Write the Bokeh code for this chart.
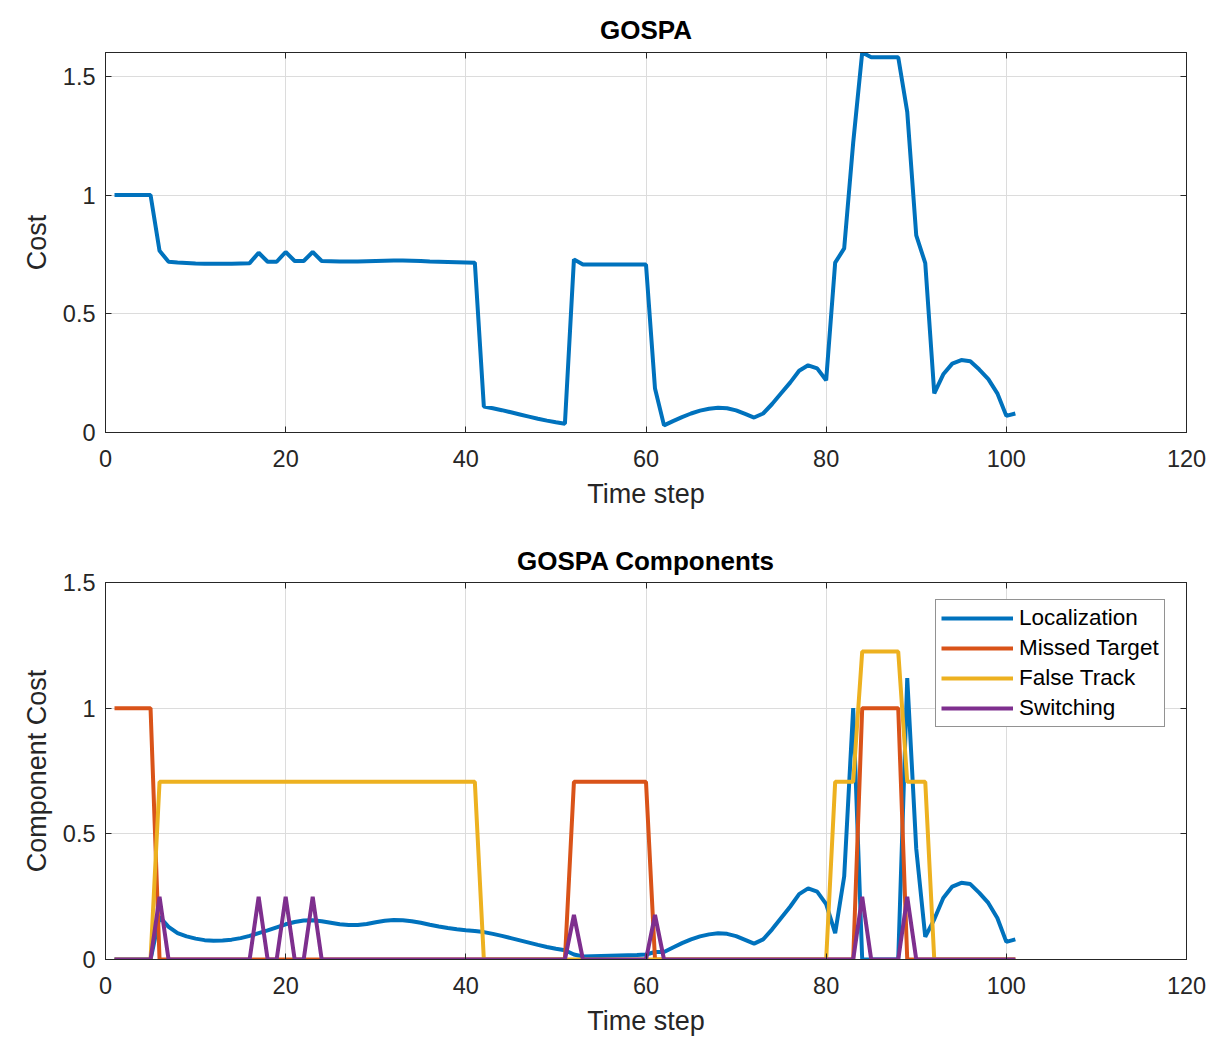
from bokeh.plotting import figure
from bokeh.layouts import column
from bokeh.models import LinearAxis, FixedTicker, Range1d, Legend, LegendItem
from bokeh.embed import file_html
from bokeh.resources import INLINE

# ---------------- data ----------------
time_step = list(range(1, 102))

gospa = [
    1.0, 1.0, 1.0, 1.0, 1.0, 0.765, 0.719, 0.716, 0.714, 0.712,
    0.711, 0.711, 0.711, 0.711, 0.712, 0.713, 0.757, 0.719, 0.719, 0.76,
    0.722, 0.722, 0.76, 0.722, 0.721, 0.72, 0.72, 0.72, 0.721, 0.722,
    0.723, 0.724, 0.724, 0.723, 0.722, 0.72, 0.719, 0.718, 0.717, 0.716,
    0.715, 0.109, 0.102, 0.094, 0.085, 0.076, 0.067, 0.058, 0.05, 0.043,
    0.037, 0.729, 0.707, 0.707, 0.707, 0.707, 0.707, 0.707, 0.707, 0.707,
    0.185, 0.03, 0.048, 0.065, 0.08, 0.092, 0.1, 0.104, 0.102, 0.093,
    0.078, 0.063, 0.08, 0.12, 0.165, 0.21, 0.26, 0.283, 0.27, 0.22,
    0.715, 0.775, 1.22, 1.6, 1.58, 1.58, 1.58, 1.58, 1.35, 0.83,
    0.713, 0.165, 0.245, 0.29, 0.305, 0.3, 0.265, 0.225, 0.165, 0.07,
    0.08,
]

localization = [
    0.0, 0.0, 0.0, 0.0, 0.0, 0.17, 0.13, 0.105, 0.092, 0.083,
    0.077, 0.075, 0.076, 0.079, 0.085, 0.094, 0.105, 0.116, 0.128, 0.14,
    0.149, 0.155, 0.156, 0.152, 0.146, 0.14, 0.137, 0.137, 0.141, 0.148,
    0.154, 0.157, 0.156, 0.152, 0.146, 0.138, 0.131, 0.125, 0.12, 0.116,
    0.113, 0.109, 0.102, 0.094, 0.085, 0.076, 0.067, 0.058, 0.05, 0.043,
    0.037, 0.02, 0.012, 0.013, 0.014, 0.015, 0.016, 0.017, 0.018, 0.02,
    0.03, 0.03, 0.048, 0.065, 0.08, 0.092, 0.1, 0.104, 0.102, 0.093,
    0.078, 0.063, 0.08, 0.12, 0.165, 0.21, 0.26, 0.283, 0.27, 0.22,
    0.105, 0.33, 1.0, 0.0, 0.0, 0.0, 0.0, 0.0, 1.12, 0.44,
    0.09, 0.16, 0.245, 0.29, 0.305, 0.3, 0.265, 0.225, 0.165, 0.07,
    0.08,
]

missed_target = [
    1.0, 1.0, 1.0, 1.0, 1.0, 0.0, 0.0, 0.0, 0.0, 0.0,
    0.0, 0.0, 0.0, 0.0, 0.0, 0.0, 0.0, 0.0, 0.0, 0.0,
    0.0, 0.0, 0.0, 0.0, 0.0, 0.0, 0.0, 0.0, 0.0, 0.0,
    0.0, 0.0, 0.0, 0.0, 0.0, 0.0, 0.0, 0.0, 0.0, 0.0,
    0.0, 0.0, 0.0, 0.0, 0.0, 0.0, 0.0, 0.0, 0.0, 0.0,
    0.0, 0.707, 0.707, 0.707, 0.707, 0.707, 0.707, 0.707, 0.707, 0.707,
    0.0, 0.0, 0.0, 0.0, 0.0, 0.0, 0.0, 0.0, 0.0, 0.0,
    0.0, 0.0, 0.0, 0.0, 0.0, 0.0, 0.0, 0.0, 0.0, 0.0,
    0.0, 0.0, 0.0, 1.0, 1.0, 1.0, 1.0, 1.0, 0.0, 0.0,
    0.0, 0.0, 0.0, 0.0, 0.0, 0.0, 0.0, 0.0, 0.0, 0.0,
    0.0,
]

false_track = [
    0.0, 0.0, 0.0, 0.0, 0.0, 0.707, 0.707, 0.707, 0.707, 0.707,
    0.707, 0.707, 0.707, 0.707, 0.707, 0.707, 0.707, 0.707, 0.707, 0.707,
    0.707, 0.707, 0.707, 0.707, 0.707, 0.707, 0.707, 0.707, 0.707, 0.707,
    0.707, 0.707, 0.707, 0.707, 0.707, 0.707, 0.707, 0.707, 0.707, 0.707,
    0.707, 0.0, 0.0, 0.0, 0.0, 0.0, 0.0, 0.0, 0.0, 0.0,
    0.0, 0.0, 0.0, 0.0, 0.0, 0.0, 0.0, 0.0, 0.0, 0.0,
    0.0, 0.0, 0.0, 0.0, 0.0, 0.0, 0.0, 0.0, 0.0, 0.0,
    0.0, 0.0, 0.0, 0.0, 0.0, 0.0, 0.0, 0.0, 0.0, 0.0,
    0.707, 0.707, 0.707, 1.225, 1.225, 1.225, 1.225, 1.225, 0.707, 0.707,
    0.707, 0.0, 0.0, 0.0, 0.0, 0.0, 0.0, 0.0, 0.0, 0.0,
    0.0,
]

switching = [
    0.0, 0.0, 0.0, 0.0, 0.0, 0.25, 0.0, 0.0, 0.0, 0.0,
    0.0, 0.0, 0.0, 0.0, 0.0, 0.0, 0.25, 0.0, 0.0, 0.25,
    0.0, 0.0, 0.25, 0.0, 0.0, 0.0, 0.0, 0.0, 0.0, 0.0,
    0.0, 0.0, 0.0, 0.0, 0.0, 0.0, 0.0, 0.0, 0.0, 0.0,
    0.0, 0.0, 0.0, 0.0, 0.0, 0.0, 0.0, 0.0, 0.0, 0.0,
    0.0, 0.177, 0.0, 0.0, 0.0, 0.0, 0.0, 0.0, 0.0, 0.0,
    0.177, 0.0, 0.0, 0.0, 0.0, 0.0, 0.0, 0.0, 0.0, 0.0,
    0.0, 0.0, 0.0, 0.0, 0.0, 0.0, 0.0, 0.0, 0.0, 0.0,
    0.0, 0.0, 0.0, 0.25, 0.0, 0.0, 0.0, 0.0, 0.25, 0.0,
    0.0, 0.0, 0.0, 0.0, 0.0, 0.0, 0.0, 0.0, 0.0, 0.0,
    0.0,
]

series_names = ["Localization", "Missed Target", "False Track", "Switching"]
series_colors = ["#0072BD", "#D95319", "#EDB120", "#7E2F8E"]

x_ticks = [0, 20, 40, 60, 80, 100, 120]
y_ticks = [0, 0.5, 1, 1.5]
y_tick_labels = ["0", "0.5", "1", "1.5"]

# ---------------- style ----------------
FONT = "Liberation Sans"
AXC = "#262626"
LW = 4


def box_axis(ticks):
    return LinearAxis(ticker=FixedTicker(ticks=ticks), major_label_text_font_size="1px",
                      major_label_text_color=None, major_label_standoff=0,
                      major_tick_in=6, major_tick_out=0,
                      axis_line_color=AXC, major_tick_line_color=AXC,
                      minor_tick_line_color=None)


def style(p, title, ylabel, title_standoff):
    p.title.text = title
    p.title.align = "center"
    p.title.text_font = FONT
    p.title.text_font_size = "26px"
    p.title.text_font_style = "bold"
    p.title.text_color = "#000000"
    p.title.standoff = title_standoff

    p.outline_line_color = AXC
    p.outline_line_width = 1
    p.background_fill_color = "white"
    p.border_fill_color = "white"

    p.xaxis.ticker = FixedTicker(ticks=x_ticks)
    p.yaxis.ticker = FixedTicker(ticks=y_ticks)
    p.yaxis.major_label_overrides = {float(v): s for v, s in zip(y_ticks, y_tick_labels)}

    for ax in (p.xaxis[0], p.yaxis[0]):
        ax.axis_line_color = AXC
        ax.major_tick_line_color = AXC
        ax.major_tick_in = 6
        ax.major_tick_out = 0
        ax.minor_tick_line_color = None
        ax.major_label_text_font = FONT
        ax.major_label_text_font_size = "23.5px"
        ax.major_label_text_color = AXC
        ax.axis_label_text_font = FONT
        ax.axis_label_text_font_size = "27px"
        ax.axis_label_text_font_style = "normal"
        ax.axis_label_text_color = AXC

    p.xaxis.axis_label = "Time step"
    p.yaxis.axis_label = ylabel
    p.xaxis.major_label_standoff = 17
    p.xaxis.axis_label_standoff = 9
    p.yaxis.major_label_standoff = 10
    p.yaxis.axis_label_standoff = 8

    # box ticks on the right and top (MATLAB "box on")
    p.add_layout(box_axis(y_ticks), "right")
    p.add_layout(box_axis(x_ticks), "above")

    p.xgrid.grid_line_color = "#dcdcdc"
    p.ygrid.grid_line_color = "#dcdcdc"
    p.xgrid.grid_line_width = 1
    p.ygrid.grid_line_width = 1


p1 = figure(width=1210, height=520, output_backend="svg", toolbar_location=None,
            x_range=Range1d(0, 120), y_range=Range1d(0, 1.6),
            min_border_left=105, min_border_right=24, min_border_top=52, min_border_bottom=88)
style(p1, "GOSPA", "Cost", 16)
p1.line(time_step, gospa, line_color=series_colors[0], line_width=LW)

p2 = figure(width=1210, height=518, output_backend="svg", toolbar_location=None,
            x_range=Range1d(0, 120), y_range=Range1d(0, 1.5),
            min_border_left=105, min_border_right=24, min_border_top=62, min_border_bottom=75)
style(p2, "GOSPA Components", "Component Cost", 13)

renderers = []
for vals, col in zip([localization, missed_target, false_track, switching], series_colors):
    renderers.append(p2.line(time_step, vals, line_color=col, line_width=LW))

legend = Legend(items=[LegendItem(label=n, renderers=[r]) for n, r in zip(series_names, renderers)],
                location=(830, 232))
legend.label_text_font = FONT
legend.label_text_font_size = "22.5px"
legend.label_text_color = "#000000"
legend.glyph_width = 72
legend.glyph_height = 22
legend.label_height = 22
legend.label_standoff = 6
legend.spacing = 4
legend.padding = 5
legend.margin = 0
legend.border_line_color = AXC
legend.border_line_width = 1
legend.background_fill_color = "white"
legend.background_fill_alpha = 1
p2.add_layout(legend, "center")

layout = column(p1, p2)
open("out.html", "w").write(file_html(layout, INLINE))
